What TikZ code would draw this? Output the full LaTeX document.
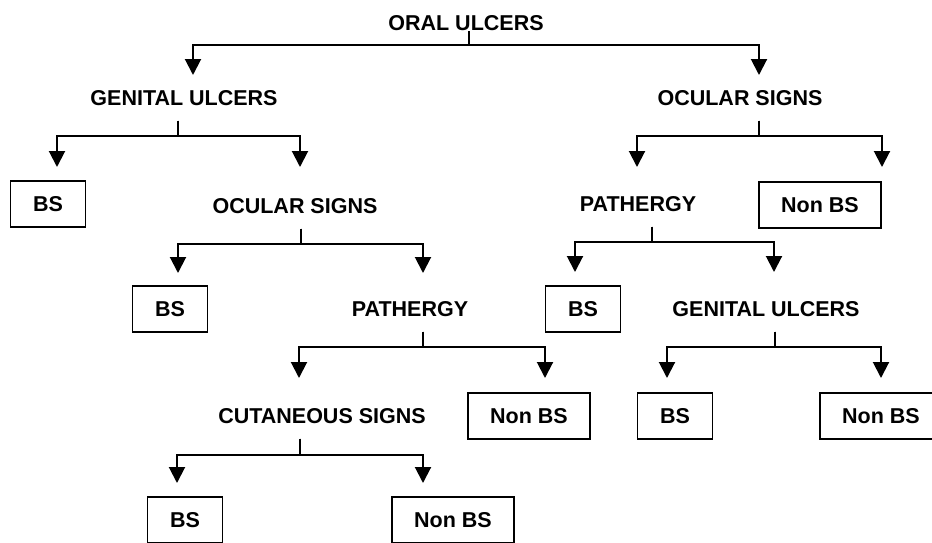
\documentclass[tikz,border=0pt]{standalone}
\usepackage{fontspec}
\setmainfont{Liberation Sans}
\usepackage{tikz}
\usetikzlibrary{arrows.meta}

\begin{document}
\begin{tikzpicture}[x=1pt, y=-1pt,
    every node/.style={font=\fontsize{21.5}{25}\selectfont\bfseries, text height=15pt, text depth=0pt},
    test/.style={inner ysep=15pt},
    outcome/.style={rectangle, draw, line width=1.8pt, minimum height=46pt, inner xsep=22.5pt},
    branch/.style={line width=2pt, -{Triangle[width=16pt, length=16pt]}}]
    \useasboundingbox (0,0) rectangle (932,542);

    \node (oral) [inner ysep=0.5pt] at (466,23) {ORAL ULCERS};
    \node (genA) [test] at (184,98) {GENITAL ULCERS};
    \node (ocuA) [test] at (740,98) {OCULAR SIGNS};
    \node (bsA) [outcome] at (48,204) {BS};
    \node (ocuB) [test] at (295,206) {OCULAR SIGNS};
    \node (patA) [test] at (638,204) {PATHERGY};
    \node (nonA) [outcome] at (820,205) {Non BS};
    \node (bsB) [outcome] at (170,309) {BS};
    \node (patB) [test] at (410,309) {PATHERGY};
    \node (bsC) [outcome] at (583,309) {BS};
    \node (genB) [test] at (766,309) {GENITAL ULCERS};
    \node (cut) [test] at (322,416) {CUTANEOUS SIGNS};
    \node (nonB) [outcome] at (529,416) {Non BS};
    \node (bsD) [outcome] at (675,416) {BS};
    \node (nonC) [outcome] at (881,416) {Non BS};
    \node (bsE) [outcome] at (185,520) {BS};
    \node (nonD) [outcome] at (453,520) {Non BS};

    \coordinate (genA-in) at (193,75);
    \coordinate (ocuA-in) at (759,75);
    \coordinate (bsA-in) at (57,167);
    \coordinate (ocuB-in) at (300,167);
    \coordinate (patA-in) at (637,167);
    \coordinate (nonA-in) at (882,167);
    \coordinate (bsB-in) at (178,273);
    \coordinate (patB-in) at (423,273);
    \coordinate (bsC-in) at (575,272);
    \coordinate (genB-in) at (774,272);
    \coordinate (cut-in) at (299,378);
    \coordinate (nonB-in) at (545,378);
    \coordinate (bsD-in) at (667,378);
    \coordinate (nonC-in) at (881,378);
    \coordinate (bsE-in) at (177,483);
    \coordinate (nonD-in) at (423,483);

    \draw[branch] ([xshift=3pt]oral.south) -- ++(0,14) -| (genA-in);
    \draw[branch] ([xshift=3pt]oral.south) -- ++(0,14) -| (ocuA-in);
    \draw[branch] ([xshift=-6pt]genA.south) -- ++(0,15) -| (bsA-in);
    \draw[branch] ([xshift=-6pt]genA.south) -- ++(0,15) -| (ocuB-in);
    \draw[branch] ([xshift=19pt]ocuA.south) -- ++(0,15) -| (patA-in);
    \draw[branch] ([xshift=19pt]ocuA.south) -- ++(0,15) -| (nonA-in);
    \draw[branch] ([xshift=6pt]ocuB.south) -- ++(0,15) -| (bsB-in);
    \draw[branch] ([xshift=6pt]ocuB.south) -- ++(0,15) -| (patB-in);
    \draw[branch] ([xshift=14pt]patA.south) -- ++(0,15) -| (bsC-in);
    \draw[branch] ([xshift=14pt]patA.south) -- ++(0,15) -| (genB-in);
    \draw[branch] ([xshift=13pt]patB.south) -- ++(0,15) -| (cut-in);
    \draw[branch] ([xshift=13pt]patB.south) -- ++(0,15) -| (nonB-in);
    \draw[branch] ([xshift=9pt]genB.south) -- ++(0,15) -| (bsD-in);
    \draw[branch] ([xshift=9pt]genB.south) -- ++(0,15) -| (nonC-in);
    \draw[branch] ([xshift=-22pt]cut.south) -- ++(0,16) -| (bsE-in);
    \draw[branch] ([xshift=-22pt]cut.south) -- ++(0,16) -| (nonD-in);
\end{tikzpicture}
\end{document}
